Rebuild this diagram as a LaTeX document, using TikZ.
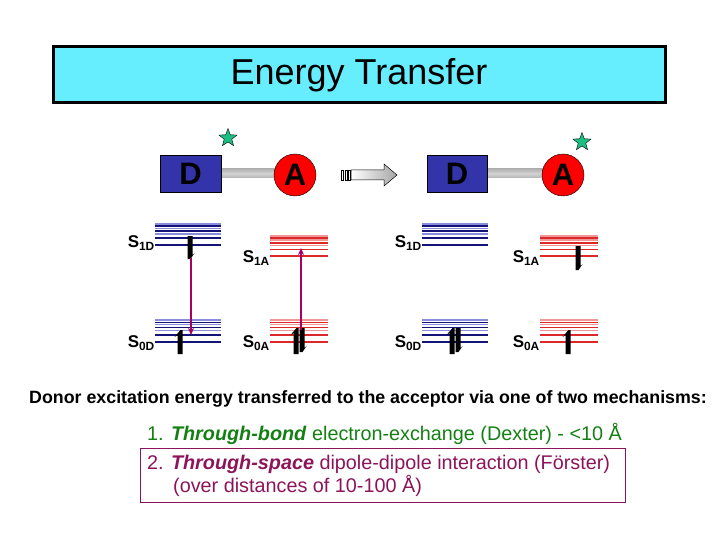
\documentclass[tikz,border=0pt]{standalone}
\usepackage{fontspec}
\setmainfont{Liberation Sans}
\usetikzlibrary{shapes.geometric,arrows.meta}
\definecolor{cyanb}{RGB}{102,238,255}
\definecolor{dblue}{RGB}{51,51,170}
\definecolor{navy}{RGB}{20,20,120}
\definecolor{lblue}{RGB}{140,140,220}
\definecolor{dred}{RGB}{220,40,40}
\definecolor{lred}{RGB}{240,150,150}
\definecolor{mag}{RGB}{170,0,100}
\definecolor{gstar}{RGB}{30,190,130}
\definecolor{dgreen}{RGB}{20,128,20}
\definecolor{boxred}{RGB}{140,20,90}
\tikzset{
  lvlB/.style={line width=1.6pt},
  lbl/.style={font=\fontsize{17}{17}\selectfont\bfseries,anchor=east,inner sep=0},
  trans/.style={mag,line width=1.3pt,-{Stealth[length=7pt,width=6pt]}},
  gstarshape/.style={star,star points=5,star point ratio=2.4,fill=gstar,draw=black,line width=0.4pt,minimum size=19pt,inner sep=0},
  mol/.style={draw=black,font=\fontsize{31}{31}\selectfont\bfseries,inner sep=0},
}
\newcommand{\levels}[5]{%
  \foreach \f/\c in {0/#5l,0.1/#5d,0.2/#5l,0.32/#5d,0.45/#5l,0.65/#5d,0.95/#5d}{
    \draw[lvlB,\c] (#1,{#3+\f*(#4-#3)}) -- (#2,{#3+\f*(#4-#3)});}}
\colorlet{Bl}{lblue}\colorlet{Bd}{navy}\colorlet{Rl}{lred}\colorlet{Rd}{dred}
\newcommand{\spinup}[3]{\fill (#1-2.5,#3) -- (#1-2.5,#2+5) -- (#1-5.5,#2+7) -- (#1+0.5,#2) -- (#1+2.5,#2) -- (#1+2.5,#3) -- cycle;}
\newcommand{\spindn}[3]{\fill (#1-2.5,#2) -- (#1-2.5,#3) -- (#1+0.5,#3) -- (#1+4.5,#3-6) -- (#1+2.5,#3-4) -- (#1+2.5,#2) -- cycle;}
\begin{document}
\begin{tikzpicture}[x=1pt,y=-1pt]
\useasboundingbox (0,0) rectangle (720,540);
\node[draw=black,line width=3pt,fill=cyanb,minimum width=612pt,minimum height=56pt,
  font=\fontsize{36}{36}\selectfont] (title) at (359,75) {\raisebox{3pt}{Energy Transfer}};
\shade[top color=gray!60,bottom color=gray!60,middle color=gray!35] (221,169) rectangle (278,178);
\node[mol,fill=dblue,minimum width=61pt,minimum height=37pt] (D1) at (190.5,173.5) {D};
\node[mol,circle,fill=red,minimum size=42pt] (A1) at (295,175) {A};
\node[gstarshape] (s1) at (228,138) {};
\shade[left color=white,right color=gray!70,draw=black,line width=0.5pt] (351,170) -- (384,170) -- (384,164) -- (397,175) -- (384,186) -- (384,180) -- (351,180) -- cycle;
\draw[line width=0.5pt] (341,170) rectangle (343,180) (345,170) rectangle (347,180) (348.5,170) rectangle (350.5,180);
\shade[top color=gray!60,bottom color=gray!60,middle color=gray!35] (487,169) rectangle (545,178);
\node[mol,fill=dblue,minimum width=60pt,minimum height=37pt] (D2) at (457,173.5) {D};
\node[mol,circle,fill=red,minimum size=42pt] (A2) at (563,175) {A};
\node[gstarshape] (s2) at (582,142) {};
\levels{155}{221}{224}{246}{B}
\levels{155}{221}{320}{343}{B}
\levels{270}{328}{236}{257}{R}
\levels{270}{328}{320}{343}{R}
\levels{422}{488}{224}{246}{B}
\levels{540}{598}{236}{257}{R}
\levels{422}{488}{320}{343}{B}
\levels{540}{598}{320}{343}{R}
\node[lbl] at (155,243) {S\textsubscript{1D}};
\node[lbl] at (155,343) {S\textsubscript{0D}};
\node[lbl] at (270,258) {S\textsubscript{1A}};
\node[lbl] at (270,343) {S\textsubscript{0A}};
\node[lbl] at (422,243) {S\textsubscript{1D}};
\node[lbl] at (422,343) {S\textsubscript{0D}};
\node[lbl] at (540,258) {S\textsubscript{1A}};
\node[lbl] at (540,343) {S\textsubscript{0A}};
\spindn{190}{236}{259}
\spinup{180}{330}{354}
\spinup{296}{328}{354}
\spindn{302}{328}{352}
\spinup{452}{328}{354}
\spindn{458}{328}{352}
\spindn{578}{246}{270}
\spinup{568}{330}{354}
\coordinate (t1a) at (191,258); \coordinate (t1b) at (191,335);
\coordinate (t2a) at (301,330); \coordinate (t2b) at (301,248);
\draw[trans] (t1a) -- (t1b);
\draw[trans] (t2a) -- (t2b);
\node[font=\fontsize{17.8}{17.8}\selectfont\bfseries] (txt) at (368,399) {Donor excitation energy transferred to the acceptor via one of two mechanisms:};
\node[font=\fontsize{19.8}{19.8}\selectfont,text=dgreen,anchor=west,inner sep=0] (m1) at (147,434) {1. \textit{\bfseries Through-bond} electron-exchange (Dexter) - <10 Å};
\node[draw=boxred,line width=0.8pt,minimum width=485pt,minimum height=54pt] (box) at (382.5,475) {};
\node[font=\fontsize{19.8}{19.8}\selectfont,anchor=west,align=left,text=boxred,inner sep=0] (m2) at (147,476) {2. \textit{\bfseries Through-space} dipole-dipole interaction (Förster)\\[1pt]\hspace*{26pt}(over distances of 10-100 Å)};
\end{tikzpicture}
\end{document}
